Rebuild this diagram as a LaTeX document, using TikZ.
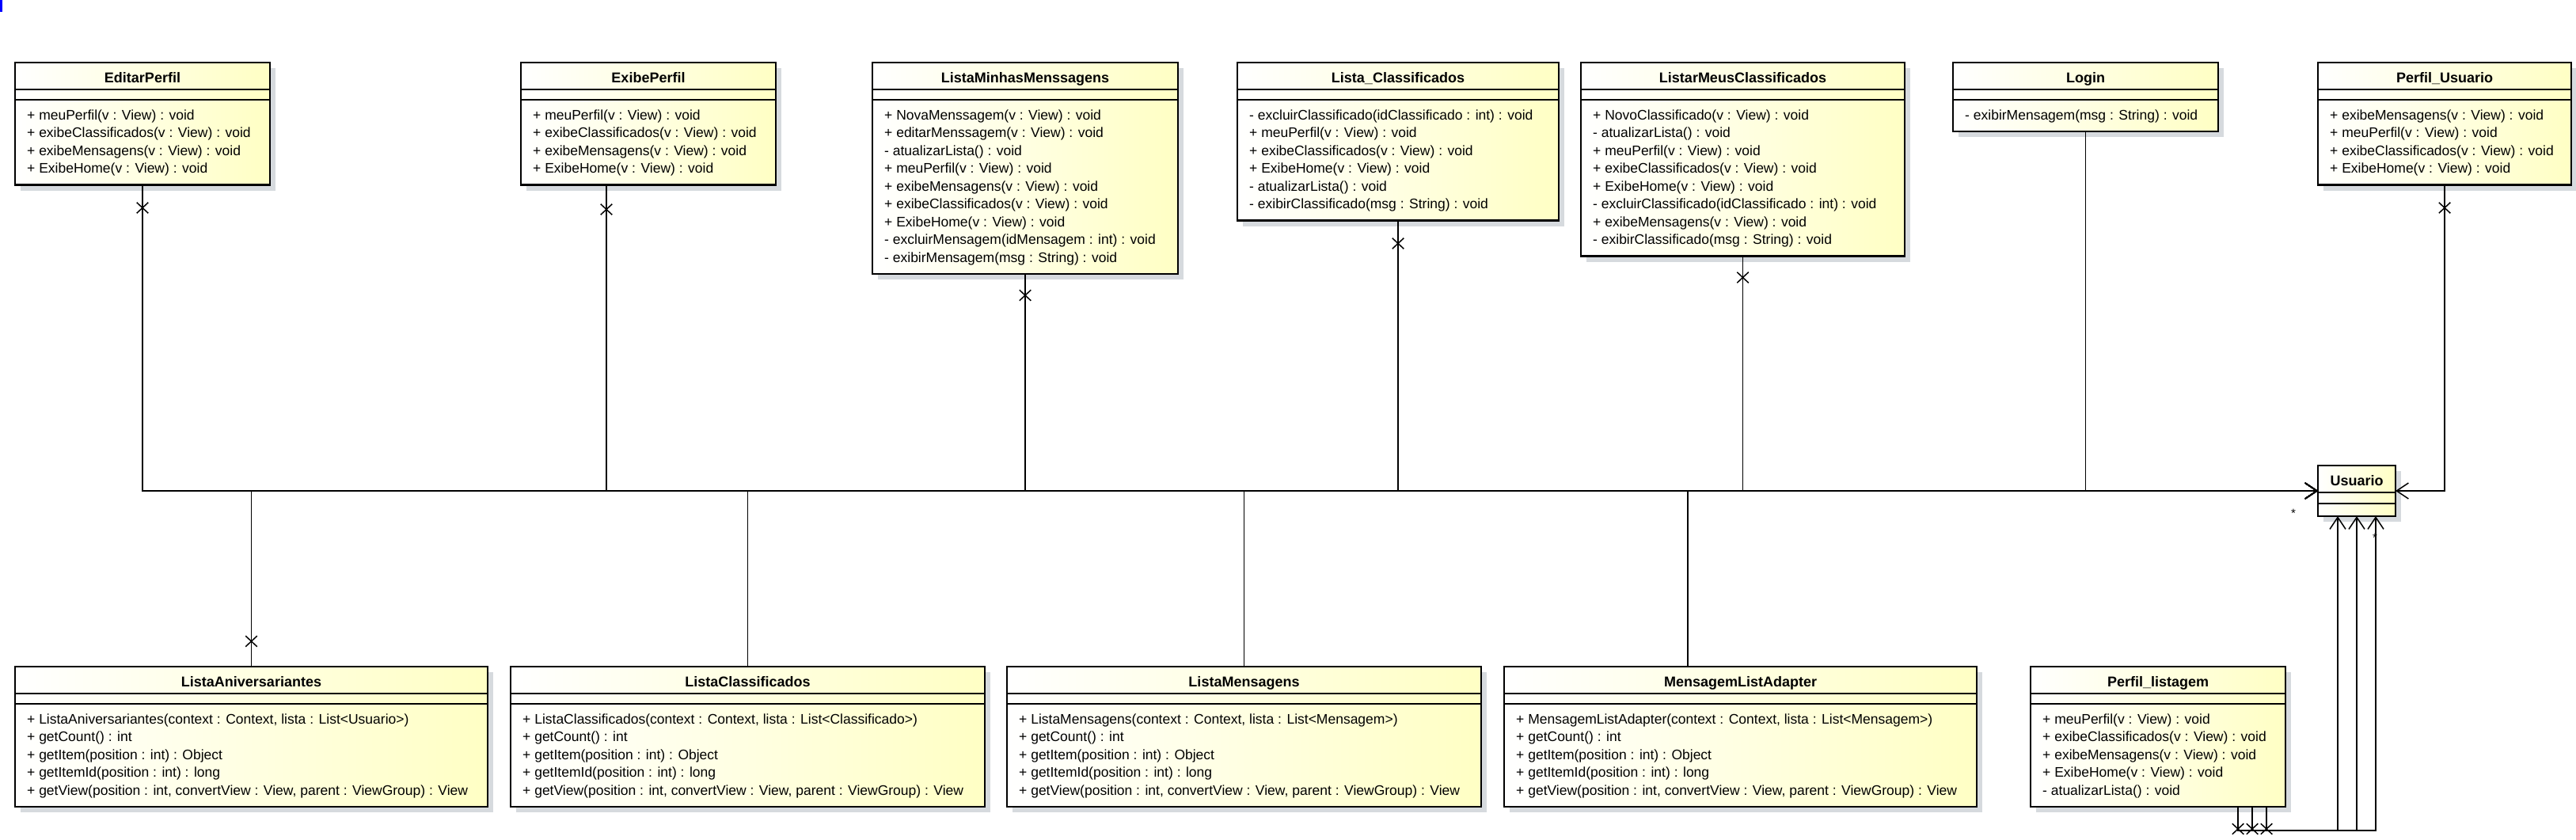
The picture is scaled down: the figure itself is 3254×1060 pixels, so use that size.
\documentclass[tikz,border=0pt]{standalone}
\usepackage{fontspec}
\setmainfont{Liberation Sans}
\usetikzlibrary{arrows.meta,calc,shadows,shapes.misc}
\definecolor{umly}{RGB}{255,255,196}
\definecolor{shadowc}{RGB}{214,218,222}
\tikzset{
  classbox/.style={draw=black, line width=2.8pt, anchor=north west, outer sep=0pt, inner sep=0pt,
    left color=white, right color=umly,
    drop shadow={shadow xshift=7pt, shadow yshift=-7pt, fill=shadowc, opacity=1}},
  divider/.style={line width=1.3pt, black},
  optext/.style={anchor=base west, inner sep=0pt, font=\fontsize{17.5}{21}\selectfont},
  titletext/.style={anchor=base, inner sep=0pt, font=\fontsize{18}{21}\selectfont\bfseries},
  assoc/.style={line width=1.5pt, black, -{Straight Barb[length=15pt, width=20pt, line width=1.5pt]}},
  xmark/.style={cross out, draw=black, line width=1.5pt, minimum width=13pt, minimum height=12pt, inner sep=0pt},
  multtext/.style={inner sep=0pt, font=\fontsize{15}{15}\selectfont}
}
\newcommand{\umlbox}[6]{%
  \pgfmathsetmacro{\ucw}{#3-#2}%
  \pgfmathsetmacro{\uch}{66+22.5*(#5-1)+21}%
  \node[classbox, minimum width=\ucw pt, minimum height=\uch pt] (#1) at (#2,#4) {};
  \node[titletext] (#1-t) at ($(#1.north)+(0,25.5)$) {#6};
  \draw[divider] ($(#1.north west)+(0,34)$) -- ($(#1.north east)+(0,34)$);
  \draw[divider] ($(#1.north west)+(0,47)$) -- ($(#1.north east)+(0,47)$);
}
\newcommand{\mline}[3]{\node[optext] (#1-m#2) at ($(#1.north west)+(15,{72+22.5*(#2-1)})$) {#3};}
\begin{document}
\begin{tikzpicture}[x=1pt,y=-1pt]
\fill[white] (0,0) rectangle (3254,1060);
\useasboundingbox (0,0) rectangle (3254,1060);
\fill[blue] (0,0) rectangle (3,15);

% ---------- top row ----------
\umlbox{ep}{19}{341}{79}{4}{EditarPerfil}
\mline{ep}{1}{+ meuPerfil(v : View) : void}
\mline{ep}{2}{+ exibeClassificados(v : View) : void}
\mline{ep}{3}{+ exibeMensagens(v : View) : void}
\mline{ep}{4}{+ ExibeHome(v : View) : void}

\umlbox{xp}{658}{980}{79}{4}{ExibePerfil}
\mline{xp}{1}{+ meuPerfil(v : View) : void}
\mline{xp}{2}{+ exibeClassificados(v : View) : void}
\mline{xp}{3}{+ exibeMensagens(v : View) : void}
\mline{xp}{4}{+ ExibeHome(v : View) : void}

\umlbox{lmm}{1102}{1488}{79}{9}{ListaMinhasMenssagens}
\mline{lmm}{1}{+ NovaMenssagem(v : View) : void}
\mline{lmm}{2}{+ editarMenssagem(v : View) : void}
\mline{lmm}{3}{- atualizarLista() : void}
\mline{lmm}{4}{+ meuPerfil(v : View) : void}
\mline{lmm}{5}{+ exibeMensagens(v : View) : void}
\mline{lmm}{6}{+ exibeClassificados(v : View) : void}
\mline{lmm}{7}{+ ExibeHome(v : View) : void}
\mline{lmm}{8}{- excluirMensagem(idMensagem : int) : void}
\mline{lmm}{9}{- exibirMensagem(msg : String) : void}

\umlbox{lc}{1563}{1969}{79}{6}{Lista\_Classificados}
\mline{lc}{1}{- excluirClassificado(idClassificado : int) : void}
\mline{lc}{2}{+ meuPerfil(v : View) : void}
\mline{lc}{3}{+ exibeClassificados(v : View) : void}
\mline{lc}{4}{+ ExibeHome(v : View) : void}
\mline{lc}{5}{- atualizarLista() : void}
\mline{lc}{6}{- exibirClassificado(msg : String) : void}

\umlbox{lmc}{1997}{2406}{79}{8}{ListarMeusClassificados}
\mline{lmc}{1}{+ NovoClassificado(v : View) : void}
\mline{lmc}{2}{- atualizarLista() : void}
\mline{lmc}{3}{+ meuPerfil(v : View) : void}
\mline{lmc}{4}{+ exibeClassificados(v : View) : void}
\mline{lmc}{5}{+ ExibeHome(v : View) : void}
\mline{lmc}{6}{- excluirClassificado(idClassificado : int) : void}
\mline{lmc}{7}{+ exibeMensagens(v : View) : void}
\mline{lmc}{8}{- exibirClassificado(msg : String) : void}

\umlbox{login}{2467}{2802}{79}{1}{Login}
\mline{login}{1}{- exibirMensagem(msg : String) : void}

\umlbox{pu}{2928}{3248}{79}{4}{Perfil\_Usuario}
\mline{pu}{1}{+ exibeMensagens(v : View) : void}
\mline{pu}{2}{+ meuPerfil(v : View) : void}
\mline{pu}{3}{+ exibeClassificados(v : View) : void}
\mline{pu}{4}{+ ExibeHome(v : View) : void}

% ---------- Usuario ----------
\node[classbox, minimum width=98pt, minimum height=64pt] (us) at (2928,588) {};
\node[titletext] (us-t) at ($(us.north)+(0,25.5)$) {Usuario};
\draw[divider] ($(us.north west)+(0,34)$) -- ($(us.north east)+(0,34)$);
\draw[divider] ($(us.north west)+(0,48)$) -- ($(us.north east)+(0,48)$);

% ---------- bottom row ----------
\umlbox{la}{19}{616}{842}{5}{ListaAniversariantes}
\mline{la}{1}{+ ListaAniversariantes(context : Context, lista : List<Usuario>)}
\mline{la}{2}{+ getCount() : int}
\mline{la}{3}{+ getItem(position : int) : Object}
\mline{la}{4}{+ getItemId(position : int) : long}
\mline{la}{5}{+ getView(position : int, convertView : View, parent : ViewGroup) : View}

\umlbox{lcl}{645}{1244}{842}{5}{ListaClassificados}
\mline{lcl}{1}{+ ListaClassificados(context : Context, lista : List<Classificado>)}
\mline{lcl}{2}{+ getCount() : int}
\mline{lcl}{3}{+ getItem(position : int) : Object}
\mline{lcl}{4}{+ getItemId(position : int) : long}
\mline{lcl}{5}{+ getView(position : int, convertView : View, parent : ViewGroup) : View}

\umlbox{lm}{1272}{1871}{842}{5}{ListaMensagens}
\mline{lm}{1}{+ ListaMensagens(context : Context, lista : List<Mensagem>)}
\mline{lm}{2}{+ getCount() : int}
\mline{lm}{3}{+ getItem(position : int) : Object}
\mline{lm}{4}{+ getItemId(position : int) : long}
\mline{lm}{5}{+ getView(position : int, convertView : View, parent : ViewGroup) : View}

\umlbox{mla}{1900}{2497}{842}{5}{MensagemListAdapter}
\mline{mla}{1}{+ MensagemListAdapter(context : Context, lista : List<Mensagem>)}
\mline{mla}{2}{+ getCount() : int}
\mline{mla}{3}{+ getItem(position : int) : Object}
\mline{mla}{4}{+ getItemId(position : int) : long}
\mline{mla}{5}{+ getView(position : int, convertView : View, parent : ViewGroup) : View}

\umlbox{pl}{2565}{2887}{842}{5}{Perfil\_listagem}
\mline{pl}{1}{+ meuPerfil(v : View) : void}
\mline{pl}{2}{+ exibeClassificados(v : View) : void}
\mline{pl}{3}{+ exibeMensagens(v : View) : void}
\mline{pl}{4}{+ ExibeHome(v : View) : void}
\mline{pl}{5}{- atualizarLista() : void}

% ---------- connectors ----------
\draw[assoc] (ep.south) |- (us.west);
\draw[assoc] ($(xp.south west)+(108,0)$) |- (us.west);
\draw[assoc] (lmm.south) |- (us.west);
\draw[assoc] (lc.south) |- (us.west);
\draw[assoc] (lmc.south) |- (us.west);
\draw[assoc] (login.south) |- (us.west);
\draw[assoc] (pu.south) |- (us.east);
\draw[assoc] (la.north) |- (us.west);
\draw[assoc] (lcl.north) |- (us.west);
\draw[assoc] (lm.north) |- (us.west);
\draw[assoc] ($(mla.north west)+(232,0)$) |- (us.west);
\draw[assoc] ($(pl.south west)+(262,0)$) -- ++(0,30) -| ($(us.south west)+(25,0)$);
\draw[assoc] ($(pl.south west)+(280,0)$) -- ++(0,30) -| ($(us.south west)+(49,0)$);
\draw[assoc] ($(pl.south west)+(298,0)$) -- ++(0,30) -| ($(us.south west)+(73,0)$);

% ---------- navigability crosses ----------
\node[xmark] (ep-x) at ($(ep.south)+(0,29)$) {};
\node[xmark] (xp-x) at ($(xp.south west)+(108,31)$) {};
\node[xmark] (lmm-x) at ($(lmm.south)+(0,27)$) {};
\node[xmark] (lc-x) at ($(lc.south)+(0,29)$) {};
\node[xmark] (lmc-x) at ($(lmc.south)+(0,27)$) {};
\node[xmark] (pu-x) at ($(pu.south)+(0,29)$) {};
\node[xmark] (la-x) at ($(la.north)+(0,-32)$) {};
\node[xmark] (pl-x1) at ($(pl.south west)+(262,28)$) {};
\node[xmark] (pl-x2) at ($(pl.south west)+(280,28)$) {};
\node[xmark] (pl-x3) at ($(pl.south west)+(298,28)$) {};

% ---------- multiplicities ----------
\node[multtext] (mult1) at (2897,648) {*};
\node[multtext] (mult2) at (3000,679) {*};
\end{tikzpicture}
\end{document}
